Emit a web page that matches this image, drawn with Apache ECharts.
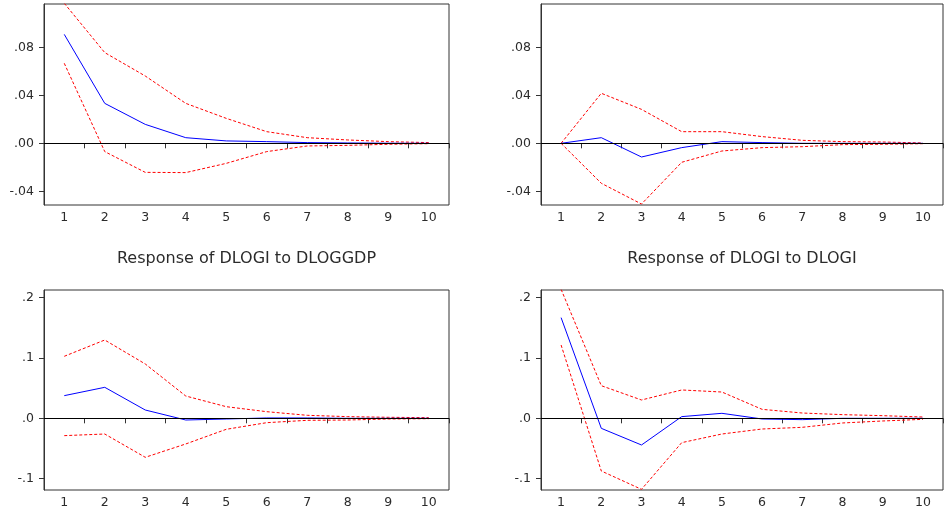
<!DOCTYPE html>
<html>
<head>
<meta charset="utf-8">
<script src="https://cdn.jsdelivr.net/npm/echarts@6/dist/echarts.min.js"></script>
<style>
html,body{margin:0;padding:0;background:#fff;}
#chart{width:944px;height:510px;}
</style>
</head>
<body>
<div id="chart"></div>
<script>
// Periods
const categories = ['1','2','3','4','5','6','7','8','9','10'];

// Top-left panel (response, +/- 2 S.E.)
const tlResp  = [0.0908, 0.0333, 0.0158, 0.0047, 0.0020, 0.0014, 0.0006, 0.0003, 0.0001, 0.0000];
const tlUpper = [0.1167, 0.0756, 0.0561, 0.0333, 0.0208, 0.0097, 0.0047, 0.0028, 0.0014, 0.0006];
const tlLower = [0.0667, -0.0069, -0.0242, -0.0244, -0.0167, -0.0069, -0.0022, -0.0017, -0.0008, -0.0003];

// Top-right panel
const trResp  = [0.0000, 0.0047, -0.0114, -0.0036, 0.0014, 0.0006, 0.0000, 0.0000, 0.0000, 0.0000];
const trUpper = [0.0000, 0.0417, 0.0283, 0.0097, 0.0097, 0.0056, 0.0025, 0.0014, 0.0011, 0.0003];
const trLower = [0.0000, -0.0333, -0.0506, -0.0158, -0.0064, -0.0036, -0.0028, -0.0011, -0.0008, -0.0003];

// Bottom-left: Response of DLOGI to DLOGGDP
const blResp  = [0.0376, 0.0514, 0.0138, -0.0028, -0.0011, 0.0006, 0.0006, 0.0000, 0.0000, 0.0000];
const blUpper = [0.1028, 0.1298, 0.0901, 0.0370, 0.0193, 0.0110, 0.0050, 0.0028, 0.0017, 0.0011];
const blLower = [-0.0287, -0.0260, -0.0646, -0.0425, -0.0182, -0.0072, -0.0033, -0.0028, -0.0011, -0.0006];

// Bottom-right: Response of DLOGI to DLOGI
const brResp  = [0.1669, -0.0166, -0.0442, 0.0028, 0.0083, -0.0011, -0.0022, 0.0000, 0.0000, 0.0000];
const brUpper = [0.2138, 0.0541, 0.0304, 0.0470, 0.0436, 0.0149, 0.0088, 0.0061, 0.0044, 0.0022];
const brLower = [0.1215, -0.0873, -0.1177, -0.0403, -0.0260, -0.0177, -0.0149, -0.0077, -0.0044, -0.0017];

// Tick labels / axis ranges
const topTicks = [-0.04, 0, 0.04, 0.08];
const bottomTicks = [-0.1, 0, 0.1, 0.2];
const topRange = [-0.0514, 0.1161];
const bottomRange = [-0.1188, 0.2127];

const panelTitles = ['Response of DLOGI to DLOGGDP', 'Response of DLOGI to DLOGI'];

const FONT = 'DejaVu Sans';
const TXT = '#2b2b2b';

const grids = [
  {left: 44, top: 4, width: 405, height: 201},
  {left: 541, top: 4, width: 402, height: 201},
  {left: 44, top: 290, width: 405, height: 200},
  {left: 541, top: 290, width: 402, height: 200}
].map(g => Object.assign({show: true, borderColor: '#333', borderWidth: 1, backgroundColor: 'transparent', containLabel: false}, g));

const panels = [
  {resp: tlResp, up: tlUpper, lo: tlLower, ticks: topTicks, range: topRange, dec: 2},
  {resp: trResp, up: trUpper, lo: trLower, ticks: topTicks, range: topRange, dec: 2},
  {resp: blResp, up: blUpper, lo: blLower, ticks: bottomTicks, range: bottomRange, dec: 1},
  {resp: brResp, up: brUpper, lo: brLower, ticks: bottomTicks, range: bottomRange, dec: 1}
];

const fmt = dec => v => v.toFixed(dec).replace(/^(-?)0\./, '$1.');

const xAxes = panels.map((p, i) => ({
  type: 'category', gridIndex: i, data: categories, boundaryGap: true,
  axisLine: {show: true, lineStyle: {color: '#333', width: 1}},
  axisTick: {show: true, length: 5, alignWithLabel: false, lineStyle: {color: '#333'}},
  axisLabel: {show: true, margin: 6, color: TXT, fontFamily: FONT, fontSize: 12.5, interval: 0},
  splitLine: {show: false}
}));

const yAxes = panels.map((p, i) => ({
  type: 'value', gridIndex: i, min: p.range[0], max: p.range[1],
  axisLine: {show: true, lineStyle: {color: '#333', width: 1}},
  axisTick: {show: true, length: 5, customValues: p.ticks, lineStyle: {color: '#333'}},
  axisLabel: {show: true, margin: 10, color: TXT, fontFamily: FONT, fontSize: 12.5,
              customValues: p.ticks, formatter: fmt(p.dec)},
  splitLine: {show: false}
}));

const series = [];
panels.forEach((p, i) => {
  series.push({
    type: 'line', xAxisIndex: i, yAxisIndex: i, data: p.up, symbol: 'none',
    lineStyle: {color: '#ff0000', width: 1, type: [3, 2]}, z: 3, clip: true
  });
  series.push({
    type: 'line', xAxisIndex: i, yAxisIndex: i, data: p.lo, symbol: 'none',
    lineStyle: {color: '#ff0000', width: 1, type: [3, 2]}, z: 3, clip: true
  });
  series.push({
    type: 'line', xAxisIndex: i, yAxisIndex: i, data: p.resp, symbol: 'none',
    lineStyle: {color: '#0000ff', width: 1}, z: 4, clip: true,
    markLine: {
      silent: true, symbol: 'none', label: {show: false}, animation: false,
      lineStyle: {color: '#000', width: 1, type: 'solid'},
      data: [{yAxis: 0}]
    }
  });
});

const chart = echarts.init(document.getElementById('chart'), null, {renderer: 'canvas'});
chart.setOption({
  animation: false,
  backgroundColor: '#fff',
  grid: grids,
  xAxis: xAxes,
  yAxis: yAxes,
  series: series,
  graphic: [
    {type: 'text', x: 246.5, y: 259, silent: true,
     style: {text: panelTitles[0], fill: TXT, font: '16px "DejaVu Sans"', textAlign: 'center', textVerticalAlign: 'middle'}},
    {type: 'text', x: 742, y: 259, silent: true,
     style: {text: panelTitles[1], fill: TXT, font: '16px "DejaVu Sans"', textAlign: 'center', textVerticalAlign: 'middle'}}
  ]
});
</script>
</body>
</html>
